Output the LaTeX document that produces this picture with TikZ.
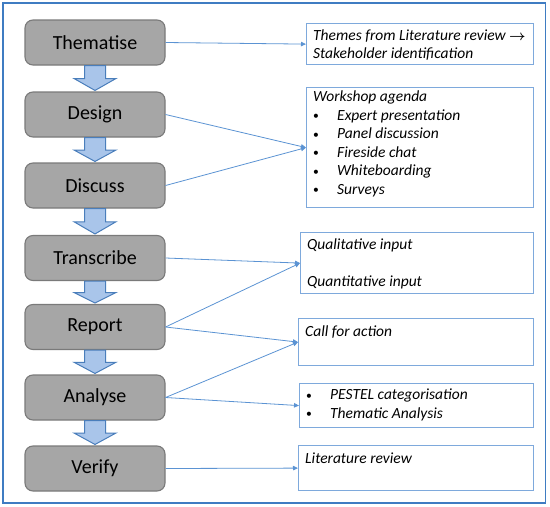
\documentclass[tikz,border=0pt]{standalone}
\usepackage{fontspec}
\setmainfont{Carlito}
\usetikzlibrary{arrows.meta,calc}

\definecolor{stepgray}{HTML}{A6A6A6}
\definecolor{stepedge}{HTML}{7A7A7A}
\definecolor{arrowfill}{HTML}{A9C5EA}
\definecolor{arrowedge}{HTML}{4A7EBB}
\definecolor{noteedge}{HTML}{7EA9DC}
\definecolor{connblue}{HTML}{5B93D3}
\definecolor{framblue}{HTML}{3F7CC2}

\newcommand\notebullet{\makebox[24pt][l]{\raisebox{.8pt}{\scalebox{.75}{\upshape\textbullet}}}}

\begin{document}
\begin{tikzpicture}[
  x=1pt, y=-1pt,
  stepbox/.style={draw=stepedge,line width=1.1pt,fill=stepgray,rounded corners=8pt,
    minimum width=140pt,minimum height=45pt,font=\fontsize{20}{23}\selectfont},
  flowarrow/.style={draw=arrowedge,line width=1pt,fill=arrowfill,line join=miter},
  notebox/.style={draw=noteedge,line width=1.2pt,fill=white,anchor=north west},
  notetext/.style={anchor=north west,inner xsep=7pt,inner ysep=6.5pt,align=left,
    font=\fontsize{15.5}{18.5}\selectfont\itshape},
  conn/.style={draw=connblue,line width=.8pt,-{Triangle[length=5pt,width=4.5pt]}}
]
\useasboundingbox (0,0) rectangle (550,507);
\draw[framblue,line width=1.5pt] (3,3) rectangle (545.5,503);

% steps on the left
\foreach \name/\txt/\y in {them/Thematise/42.5, des/Design/114.5, disc/Discuss/185.5,
  trans/Transcribe/258, rep/Report/327, ana/Analyse/397.5, ver/Verify/468.5} {
  \node[stepbox] (\name) at (95,\y) {\txt};
}
\foreach \a/\b in {them/des, des/disc, disc/trans, trans/rep, rep/ana, ana/ver} {
  \coordinate (m) at ($(\a.south)!.5!(\b.north)$);
  \draw[flowarrow] ($(\a.south)+(-10.5,0)$) -- ($(m)+(-10.5,0)$) -- ($(m)+(-21,0)$)
    -- ($(\b.north)+(0,-1)$) -- ($(m)+(21,0)$) -- ($(m)+(10.5,0)$)
    -- ($(\a.south)+(10.5,0)$) -- cycle;
}

% notes on the right
\node[notebox,minimum width=227pt,minimum height=41pt] (themesbox) at (306,23) {};
\node[notetext] (themestxt) at (themesbox.north west)
  {Themes from Literature review {\boldmath$\rightarrow$}\\Stakeholder identification};
\node[notebox,minimum width=227pt,minimum height=120pt] (agendabox) at (306,87) {};
\node[notetext,inner ysep=4pt] (agendatxt) at (agendabox.north west)
  {Workshop agenda\\\notebullet Expert presentation\\\notebullet Panel discussion\\
   \notebullet Fireside chat\\\notebullet Whiteboarding\\\notebullet Surveys};
\node[notebox,minimum width=233pt,minimum height=61pt] (inputbox) at (300,232) {};
\node[notetext] (inputtxt) at (inputbox.north west)
  {Qualitative input\\[18.5pt]Quantitative input};
\node[notebox,minimum width=235pt,minimum height=47pt] (actionbox) at (298,318) {};
\node[notetext,inner ysep=7.5pt] (actiontxt) at (actionbox.north west) {Call for action};
\node[notebox,minimum width=234pt,minimum height=44pt] (pestelbox) at (299,383) {};
\node[notetext,inner ysep=6pt] (pesteltxt) at (pestelbox.north west)
  {\notebullet PESTEL categorisation\\\notebullet Thematic Analysis};
\node[notebox,minimum width=235pt,minimum height=45pt] (litbox) at (298,445) {};
\node[notetext,inner ysep=7.5pt] (littxt) at (litbox.north west) {Literature review};

% connectors
\draw[conn] (them.east) -- (themesbox.west);
\draw[conn] (des.east) -- (agendabox.west);
\draw[conn] (disc.east) -- (agendabox.west);
\draw[conn] (trans.east) -- (inputbox.west);
\draw[conn] (rep.east) -- (inputbox.west);
\draw[conn] (rep.east) -- (actionbox.west);
\draw[conn] (ana.east) -- (actionbox.west);
\draw[conn] (ana.east) -- (pestelbox.west);
\draw[conn] (ver.east) -- (litbox.west);
\end{tikzpicture}
\end{document}
